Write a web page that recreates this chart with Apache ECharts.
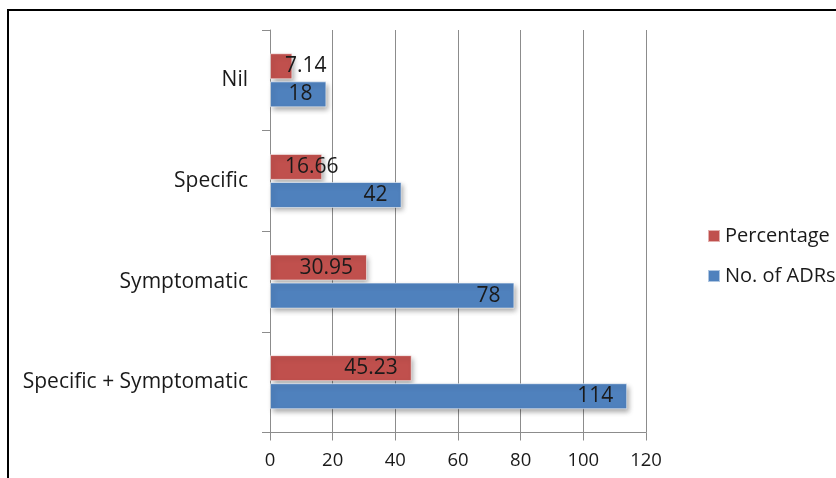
<!DOCTYPE html>
<html>
<head>
<meta charset="utf-8">
<script src="https://cdn.jsdelivr.net/npm/echarts@6/dist/echarts.min.js"></script>
<style>
  html, body { margin: 0; padding: 0; background: #fff; }
  #chart { width: 836px; height: 478px; }
</style>
</head>
<body>
<div id="chart"></div>
<script>
// Treatment given for ADRs
const categories = ['Nil', 'Specific', 'Symptomatic', 'Specific + Symptomatic'];
const percentage = [7.14, 16.66, 30.95, 45.23];
const adrCount = [18, 42, 78, 114];
const xTicks = [0, 20, 40, 60, 80, 100, 120];

const FONT = '"Open Sans"';
const TEXT = '#1a1a1a';

// Values too wide for their bar get their label placed from the bar start
function labelFor(v, fitsInside) {
  return fitsInside
    ? { value: v }
    : { value: v, label: { position: 'insideLeft', distance: 15 } };
}

const barStyle = (color) => ({
  color: color,
  borderColor: 'rgba(255,255,255,0.55)',
  borderWidth: 1,
  shadowColor: 'rgba(0,0,0,0.35)',
  shadowBlur: 5,
  shadowOffsetX: 2,
  shadowOffsetY: 3
});

const chart = echarts.init(document.getElementById('chart'), null, { renderer: 'canvas' });
chart.setOption({
  animation: false,
  backgroundColor: '#fff',
  textStyle: { fontFamily: FONT },
  graphic: [{
    type: 'rect',
    shape: { x: 8, y: 10, width: 900, height: 600 },
    style: { fill: 'none', stroke: '#000', lineWidth: 2 },
    silent: true
  }],
  grid: { left: 270, right: 190, top: 30, bottom: 45.5, containLabel: false },
  legend: {
    orient: 'vertical',
    left: 702,
    top: 221,
    itemWidth: 12,
    itemHeight: 12,
    itemGap: 20,
    icon: 'rect',
    textStyle: { fontFamily: FONT, fontSize: 20, color: TEXT, padding: [0, 0, 0, 0] },
    data: ['Percentage', 'No. of ADRs']
  },
  xAxis: {
    type: 'value',
    min: xTicks[0],
    max: xTicks[xTicks.length - 1],
    interval: xTicks[1] - xTicks[0],
    axisLine: { show: true, lineStyle: { color: '#8c8c8c', width: 1 } },
    axisTick: { show: true, length: 8, lineStyle: { color: '#8c8c8c' } },
    splitLine: { show: true, lineStyle: { color: '#8c8c8c', width: 1 } },
    axisLabel: { fontFamily: FONT, fontSize: 18.5, color: TEXT, margin: 19 }
  },
  yAxis: {
    type: 'category',
    inverse: true,
    data: categories,
    axisLine: { show: true, lineStyle: { color: '#8c8c8c', width: 1 } },
    axisTick: { show: true, length: 8, alignWithLabel: false, lineStyle: { color: '#8c8c8c' } },
    axisLabel: { fontFamily: FONT, fontSize: 21, color: TEXT, margin: 22 }
  },
  series: [
    {
      name: 'Percentage',
      type: 'bar',
      barWidth: 26,
      barGap: '8%',
      itemStyle: barStyle('#C0504D'),
      label: {
        show: true, position: 'insideRight', distance: 14,
        fontFamily: FONT, fontSize: 21, color: TEXT
      },
      data: percentage.map((v, i) => labelFor(v, i >= 2))
    },
    {
      name: 'No. of ADRs',
      type: 'bar',
      barWidth: 26,
      barGap: '8%',
      itemStyle: barStyle('#4F81BD'),
      label: {
        show: true, position: 'insideRight', distance: 14,
        fontFamily: FONT, fontSize: 21, color: TEXT
      },
      data: adrCount.map((v) => labelFor(v, true))
    }
  ]
});
</script>
</body>
</html>
